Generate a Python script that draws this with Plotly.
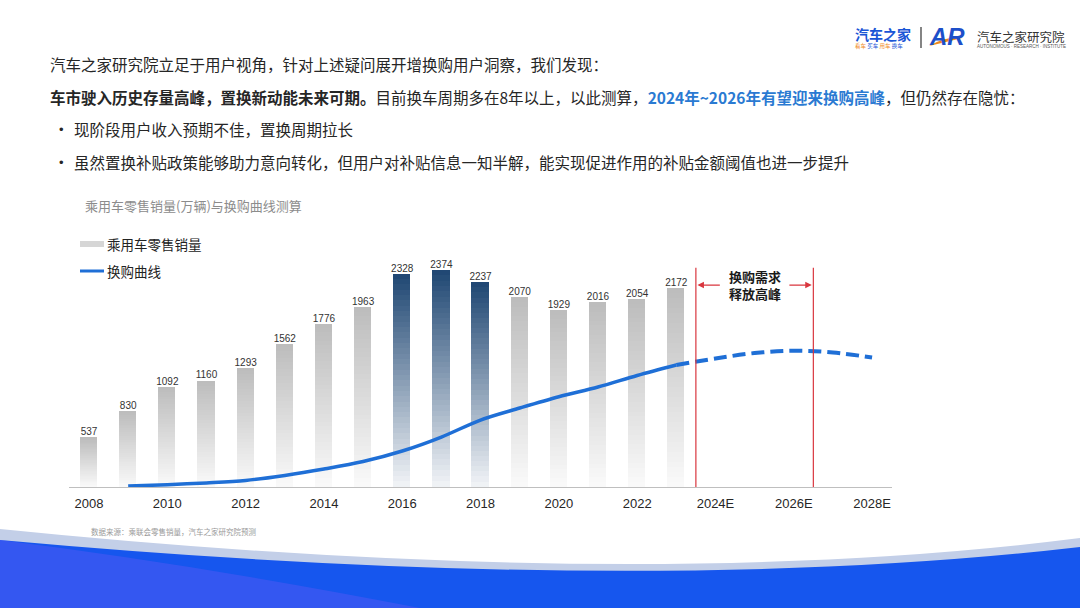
import plotly.graph_objects as go

# ---------------- data ----------------
years = list(range(2008, 2024))
sales = [537, 830, 1092, 1160, 1293, 1562, 1776, 1963, 2328, 2374, 2237, 2070, 1929, 2016, 2054, 2172]
highlight_years = [2016, 2017, 2018]

curve_years = list(range(2009, 2024))
curve_vals = [10, 25, 45, 72, 127, 197, 279, 394, 547, 733, 864, 988, 1094, 1220, 1335]

forecast_years = [2023, 2024, 2025, 2026, 2027, 2028]
forecast_vals = [1335, 1406, 1466, 1491, 1472, 1417]

tick_vals = [2008, 2010, 2012, 2014, 2016, 2018, 2020, 2022, 2024, 2026, 2028]
tick_text = ["2008", "2010", "2012", "2014", "2016", "2018", "2020", "2022", "2024E", "2026E", "2028E"]

peak_start, peak_end = 2023.5, 2026.5

# ---------------- helpers ----------------
W, H = 1080, 608
def px(x):
    return x / W
def py(y):
    return 1 - y / H

def mix(c0, c1, t):
    return "rgb(%d,%d,%d)" % tuple(round(a + (b - a) * t) for a, b in zip(c0, c1))

GRAY_BOT, GRAY_TOP = (250, 250, 250), (188, 188, 188)
NAVY_BOT, NAVY_TOP = (242, 244, 247), (30, 70, 114)

CJK = "Noto Sans CJK SC"
NUM = "Liberation Sans, Arial, Noto Sans CJK SC"

fig = go.Figure()

# gradient bars as stacked slices
N = 40
for k in range(N):
    t = (k + 0.5) / N
    cols = [mix(NAVY_BOT, NAVY_TOP, t) if yr in highlight_years else mix(GRAY_BOT, GRAY_TOP, t) for yr in years]
    fig.add_trace(go.Bar(x=years, y=[v / N for v in sales], marker=dict(color=cols, line=dict(width=0)),
                         width=0.44, showlegend=False, hoverinfo="skip"))

# value labels
fig.add_trace(go.Scatter(x=years, y=sales, mode="text", text=[str(v) for v in sales],
                         textposition="top center", textfont=dict(family=NUM, size=10, color="#333333"),
                         showlegend=False, hoverinfo="skip"))

# replacement curve
fig.add_trace(go.Scatter(x=curve_years, y=curve_vals, mode="lines",
                         line=dict(color="#1f6fd6", width=3.5, shape="spline", smoothing=0.9),
                         showlegend=False))
fig.add_trace(go.Scatter(x=forecast_years, y=forecast_vals, mode="lines",
                         line=dict(color="#1f6fd6", width=4, shape="spline", smoothing=1.0, dash="13px,6px"),
                         showlegend=False))

shapes = []
annotations = []

# peak bracket
for xv in (peak_start, peak_end):
    shapes.append(dict(type="line", xref="x", yref="y", x0=xv, x1=xv, y0=0, y1=2400,
                       line=dict(color="#d9363e", width=1.2)))
annotations.append(dict(xref="x", yref="y", x=(peak_start + peak_end) / 2, y=2210,
                        text="<b>换购需求<br>释放高峰</b>", showarrow=False,
                        font=dict(family=CJK, size=13, color="#1a1a1a")))
annotations.append(dict(xref="x", yref="y", x=peak_start + 0.04, y=2210, axref="x", ayref="y",
                        ax=2024.15, ay=2210, text="", showarrow=True, arrowhead=2, arrowsize=1,
                        arrowwidth=1.3, arrowcolor="#d9363e"))
annotations.append(dict(xref="x", yref="y", x=peak_end - 0.04, y=2210, axref="x", ayref="y",
                        ax=2025.85, ay=2210, text="", showarrow=True, arrowhead=2, arrowsize=1,
                        arrowwidth=1.3, arrowcolor="#d9363e"))

# header texts
TXT = "#262626"
annotations.append(dict(xref="paper", yref="paper", x=px(48), y=py(64), xanchor="left", yanchor="middle",
                        text="汽车之家研究院立足于用户视角，针对上述疑问展开增换购用户洞察，我们发现：",
                        showarrow=False, font=dict(family=CJK, size=15.5, color=TXT)))
annotations.append(dict(xref="paper", yref="paper", x=px(48), y=py(97), xanchor="left", yanchor="middle",
                        text="<b>车市驶入历史存量高峰，置换新动能未来可期。</b>目前换车周期多在8年以上，以此测算，"
                             "<b><span style='color:#2a7ad2'>2024年~2026年有望迎来换购高峰</span></b>，但仍然存在隐忧：",
                        showarrow=False, font=dict(family=CJK, size=15.5, color=TXT)))
for yy, txt in ((129, "现阶段用户收入预期不佳，置换周期拉长"),
                (162, "虽然置换补贴政策能够助力意向转化，但用户对补贴信息一知半解，能实现促进作用的补贴金额阈值也进一步提升")):
    annotations.append(dict(xref="paper", yref="paper", x=px(61), y=py(yy), xanchor="center", yanchor="middle",
                            text="•", showarrow=False, font=dict(family=NUM, size=13, color=TXT)))
    annotations.append(dict(xref="paper", yref="paper", x=px(72), y=py(yy), xanchor="left", yanchor="middle",
                            text=txt, showarrow=False, font=dict(family=CJK, size=15.5, color=TXT)))

# chart title
annotations.append(dict(xref="paper", yref="paper", x=px(83), y=py(205), xanchor="left", yanchor="middle",
                        text="乘用车零售销量(万辆)与换购曲线测算", showarrow=False,
                        font=dict(family=CJK, size=13, color="#8c8c8c")))

# custom legend
shapes.append(dict(type="rect", xref="paper", yref="paper", x0=px(80), x1=px(104), y0=py(247), y1=py(241),
                   fillcolor="#d6d6d6", line=dict(width=0)))
shapes.append(dict(type="line", xref="paper", yref="paper", x0=px(80), x1=px(104), y0=py(271), y1=py(271),
                   line=dict(color="#1f6fd6", width=3)))
annotations.append(dict(xref="paper", yref="paper", x=px(105), y=py(244), xanchor="left", yanchor="middle",
                        text="乘用车零售销量", showarrow=False, font=dict(family=CJK, size=13.5, color="#222222")))
annotations.append(dict(xref="paper", yref="paper", x=px(105), y=py(271), xanchor="left", yanchor="middle",
                        text="换购曲线", showarrow=False, font=dict(family=CJK, size=13.5, color="#222222")))

# source
annotations.append(dict(xref="paper", yref="paper", x=px(89), y=py(531), xanchor="left", yanchor="middle",
                        text="数据来源：乘联会零售销量，汽车之家研究院预测", showarrow=False,
                        font=dict(family=CJK, size=7.5, color="#9a9a9a")))

# logo
annotations.append(dict(xref="paper", yref="paper", x=px(853), y=py(34), xanchor="left", yanchor="middle",
                        text="<b>汽车之家</b>", showarrow=False, font=dict(family=CJK, size=14, color="#1a55d6")))
annotations.append(dict(xref="paper", yref="paper", x=px(853), y=py(46), xanchor="left", yanchor="middle",
                        text="<span style='color:#f08a1c'>看车</span> <span style='color:#1a55d6'>买车</span> "
                             "<span style='color:#f08a1c'>用车</span> <span style='color:#1a55d6'>换车</span>",
                        showarrow=False, font=dict(family=CJK, size=5.5)))
shapes.append(dict(type="line", xref="paper", yref="paper", x0=px(921), x1=px(921), y0=py(27), y1=py(48),
                   line=dict(color="#333333", width=1.2)))
annotations.append(dict(xref="paper", yref="paper", x=px(927), y=py(37), xanchor="left", yanchor="middle",
                        text="<b><i>AR</i></b>", showarrow=False, font=dict(family=NUM, size=24, color="#1d4fc9")))
shapes.append(dict(type="path", xref="paper", yref="paper",
                   path=f"M {px(929)},{py(46)} Q {px(945)},{py(36)} {px(962)},{py(38)} L {px(950)},{py(41)} Z",
                   fillcolor="#f08a1c", line=dict(width=0)))
annotations.append(dict(xref="paper", yref="paper", x=px(975), y=py(36), xanchor="left", yanchor="middle",
                        text="汽车之家研究院", showarrow=False, font=dict(family=CJK, size=12.5, color="#333333")))
annotations.append(dict(xref="paper", yref="paper", x=px(975), y=py(47), xanchor="left", yanchor="middle",
                        text="AUTONOMOUS · RESEARCH · INSTITUTE", showarrow=False,
                        font=dict(family=NUM, size=4.5, color="#555555")))

# bottom wave decoration
shapes.append(dict(type="path", xref="paper", yref="paper", layer="below",
                   path=f"M 0,{py(529)} Q {px(640)},{py(594)} 1,{py(538)} L 1,0 L 0,0 Z",
                   fillcolor="#c3cfe8", line=dict(width=0)))
shapes.append(dict(type="path", xref="paper", yref="paper", layer="below",
                   path=f"M 0,{py(540)} Q {px(640)},{py(598)} 1,{py(547)} L 1,0 L 0,0 Z",
                   fillcolor="#1656ee", line=dict(width=0)))
shapes.append(dict(type="path", xref="paper", yref="paper", layer="below",
                   path=f"M 0,{py(540)} Q {px(200)},{py(565)} {px(420)},{py(608)} L 0,0 Z",
                   fillcolor="rgba(110,90,245,0.35)", line=dict(width=0)))

fig.update_layout(
    width=W, height=H, margin=dict(l=0, r=0, t=0, b=0),
    paper_bgcolor="white", plot_bgcolor="rgba(0,0,0,0)",
    barmode="stack", bargap=0, showlegend=False,
    shapes=shapes, annotations=annotations,
    xaxis=dict(domain=[0.0643, 0.8256], range=[2007.5, 2028.5], tickvals=tick_vals, ticktext=tick_text,
               showline=True, linecolor="#bfbfbf", linewidth=1, ticks="", showgrid=False, zeroline=False,
               tickfont=dict(family=NUM, size=13, color="#262626"), ticklabelstandoff=4, fixedrange=True),
    yaxis=dict(domain=[0.199, 0.5898], range=[0, 2600], visible=False, fixedrange=True),
)

fig.write_html("out.html", config={"displayModeBar": False},
               post_script="document.body.style.margin='0';document.body.style.overflow='hidden';")
